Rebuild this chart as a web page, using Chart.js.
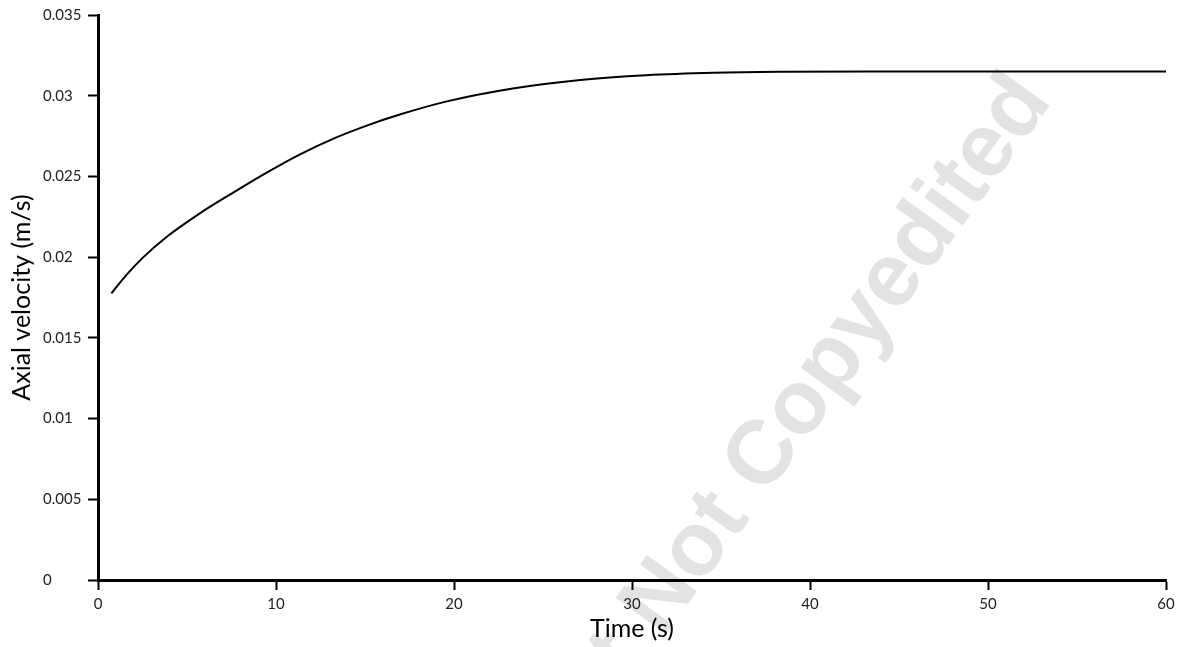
<!DOCTYPE html>
<html>
<head>
<meta charset="utf-8">
<script src="https://cdn.jsdelivr.net/npm/chart.js@4/dist/chart.umd.min.js"></script>
<style>
  html, body { margin:0; padding:0; background:#fff; }
  #wrap { width:1184px; height:647px; position:relative; }
</style>
</head>
<body>
<div id="wrap"><canvas id="velChart"></canvas></div>
<script>
"use strict";

// values
const timeS    = [0.75, 1.6, 2.55, 3.85, 5.7, 7.6, 9.5, 11.35, 13.2, 15.1, 17.0, 19.6, 23.3, 27.1, 30.8, 34.6, 38.3, 45, 50, 55, 60];
const velocity = [0.01775, 0.0189, 0.0200, 0.02125, 0.0227, 0.0240, 0.02525, 0.02637, 0.02733, 0.02815, 0.02885, 0.02965, 0.03045, 0.03098, 0.03127, 0.03142, 0.03148, 0.0315, 0.0315, 0.0315, 0.0315];

const X_TITLE = "Time (s)";
const Y_TITLE = "Axial velocity (m/s)";
const WATERMARK = "Accepted Manuscript Not Copyedited";

const FONT = "Lato";
const INK  = "#000";

// white page + faint diagonal watermark, drawn under everything else
const backdrop = {
  id: "backdrop",
  beforeDraw(chart) {
    const ctx = chart.ctx;
    ctx.save();
    ctx.fillStyle = "#fff";
    ctx.fillRect(0, 0, chart.width, chart.height);
    ctx.translate(1053, 101);
    ctx.rotate(-54 * Math.PI / 180);
    ctx.font = "bold 90px 'Liberation Sans'";
    ctx.fillStyle = "#e3e3e3";
    ctx.textAlign = "right";
    ctx.textBaseline = "alphabetic";
    ctx.fillText(WATERMARK, 0, 0);
    ctx.restore();
  }
};

// y title drawn by hand so the tick labels can stay left-aligned
const yTitle = {
  id: "yTitle",
  afterDraw(chart) {
    const ctx = chart.ctx, a = chart.chartArea;
    ctx.save();
    ctx.translate(22, (a.top + a.bottom) / 2);
    ctx.rotate(-Math.PI / 2);
    ctx.font = `25px ${FONT}`;
    ctx.fillStyle = INK;
    ctx.textAlign = "center";
    ctx.textBaseline = "middle";
    ctx.fillText(Y_TITLE, 0, 0);
    ctx.restore();
  }
};

new Chart(document.getElementById("velChart"), {
  type: "line",
  data: {
    datasets: [{
      data: timeS.map((t, i) => ({ x: t, y: velocity[i] })),
      borderColor: INK, borderWidth: 2,
      pointRadius: 0, fill: false,
      cubicInterpolationMode: "monotone"
    }]
  },
  options: {
    responsive: true, maintainAspectRatio: false, animation: false,
    layout: { padding: { left: 43, right: 18, top: 15, bottom: 0 } },
    plugins: { legend: { display: false }, tooltip: { enabled: false } },
    scales: {
      x: {
        type: "linear", min: 0, max: 60,
        afterFit: s => { s.height = 67; },
        border: { color: INK, width: 3 },
        grid: { drawOnChartArea: false, drawTicks: true, tickLength: 10, tickWidth: 2, tickColor: INK },
        ticks: { stepSize: 10, color: "#222", font: { family: FONT, size: 15 }, padding: 5, maxRotation: 0 },
        title: { display: true, text: X_TITLE, color: INK, font: { family: FONT, size: 25 }, padding: { top: 0, bottom: 3 } }
      },
      y: {
        min: 0, max: 0.035,
        afterFit: s => { s.width = 55; },
        border: { color: INK, width: 3 },
        grid: { drawOnChartArea: false, drawTicks: true, tickLength: 10, tickWidth: 2, tickColor: INK },
        ticks: {
          stepSize: 0.005, color: "#222", font: { family: FONT, size: 15 }, crossAlign: "far",
          callback: v => String(Number(v.toFixed(3)))
        }
      }
    }
  },
  plugins: [backdrop, yTitle]
});
</script>
</body>
</html>
